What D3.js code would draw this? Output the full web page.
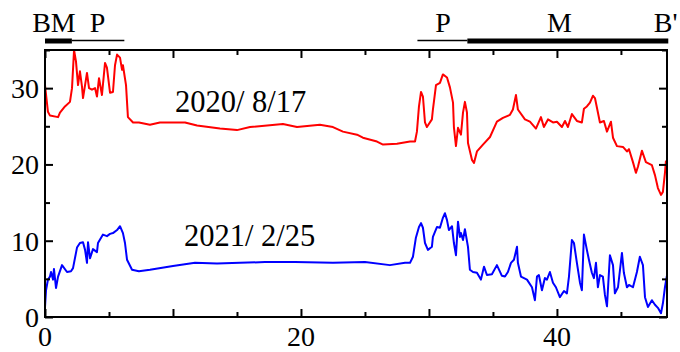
<!DOCTYPE html>
<html><head><meta charset="utf-8">
<script src="https://cdn.jsdelivr.net/npm/d3@7"></script>
<style>body{margin:0;background:#fff}svg{display:block}</style>
</head><body><svg id="c" width="680" height="352"></svg>
<script>
// ---- data ----
const xTicks = [0, 20, 40];
const yTicks = [0, 10, 20, 30];
const redX = [0,0.23,0.39,1.02,1.17,1.56,1.95,2.11,2.27,2.42,2.58,2.73,2.89,2.97,3.28,3.44,3.67,3.91,4.06,4.22,4.45,4.69,4.84,5.08,5.31,5.47,5.63,5.86,6.02,6.09,6.33,6.48,6.88,7.34,8.20,8.98,10.94,11.88,13.67,15.0,16.02,18.59,19.69,21.48,22.5,23.28,24.38,24.84,25.94,26.41,27.5,28.52,28.91,29.06,29.22,29.38,29.53,29.69,29.84,30.23,30.31,30.55,30.86,31.09,31.41,31.64,31.88,31.95,32.11,32.27,32.5,32.66,32.81,32.97,33.05,33.36,33.52,33.75,34.22,34.77,35.31,35.78,36.33,36.56,36.8,36.95,37.5,37.89,38.36,38.75,38.98,39.3,39.69,40.0,40.39,40.63,40.86,41.17,41.56,41.95,42.11,42.34,42.58,42.81,42.97,43.13,43.36,43.67,43.91,44.22,44.38,44.69,45.16,45.47,45.63,45.94,46.17,46.33,46.64,46.95,47.42,47.66,47.89,48.13,48.28,48.44,48.52];
const redY = [30.4,26.9,26.4,26.2,26.8,27.6,28.2,30.0,35.0,33.5,30.4,32.2,30.2,28.7,32.0,30.0,29.8,30.0,28.9,31.3,29.1,33.3,32.7,29.4,29.5,33.0,34.4,34.0,32.4,33.0,30.4,26.2,25.5,25.5,25.2,25.5,25.5,25.1,24.7,24.5,24.9,25.3,24.9,25.2,24.9,24.3,23.9,23.5,23.0,22.6,22.7,23.0,23.0,24.3,27.6,29.5,28.9,25.5,24.9,25.9,27.2,30.4,30.7,31.8,31.4,30.1,28.1,24.9,22.4,24.8,23.9,26.8,28.2,26.8,22.8,20.6,20.2,21.7,22.6,23.6,25.6,26.1,26.5,27.2,29.1,27.2,25.9,25.6,24.7,26.2,24.9,25.9,25.5,25.6,24.9,25.7,24.9,26.6,25.7,25.5,27.3,27.6,28.1,29.0,28.7,27.4,25.5,25.7,24.3,25.6,23.5,22.4,22.3,21.7,22.0,20.3,18.9,19.7,21.8,20.3,19.9,18.6,16.9,16.0,16.4,18.9,20.5];
const blueX = [0,0.08,0.23,0.39,0.47,0.63,0.70,0.86,1.02,1.33,1.72,2.03,2.19,2.50,2.73,2.97,3.13,3.28,3.36,3.52,3.75,4.06,4.14,4.53,4.84,5.08,5.31,5.63,5.86,6.09,6.25,6.41,6.80,7.34,8.20,10.0,11.72,13.44,15.23,17.19,19.53,22.5,25.0,26.95,28.13,28.52,28.75,28.98,29.22,29.38,29.53,29.69,29.92,30.23,30.31,30.63,30.86,31.09,31.25,31.41,31.56,31.80,31.95,32.11,32.27,32.42,32.50,32.66,32.81,33.05,33.20,33.44,33.75,34.06,34.30,34.53,34.92,35.31,35.70,35.94,36.17,36.41,36.64,36.88,36.95,37.19,37.66,38.05,38.28,38.44,38.59,38.83,39.06,39.22,39.45,39.69,39.92,40.23,40.55,40.78,40.94,41.17,41.33,41.56,41.80,41.95,42.11,42.34,42.50,42.73,42.89,43.05,43.20,43.36,43.59,43.75,43.91,44.14,44.38,44.53,44.77,45.08,45.23,45.47,45.63,45.94,46.25,46.48,46.72,46.88,47.11,47.42,47.66,47.89,48.13,48.28,48.44,48.59];
const blueY = [1.3,3.5,4.9,5.3,5.9,4.9,6.3,3.8,5.3,6.8,5.9,6.0,6.4,9.1,9.7,9.8,8.8,7.1,9.8,7.7,8.9,8.5,9.7,10.8,10.6,10.9,11.0,11.4,11.9,11.0,9.7,7.5,6.2,6.0,6.2,6.7,7.1,7.0,7.1,7.2,7.2,7.1,7.2,6.8,7.1,7.1,7.9,10.4,11.8,12.3,11.7,9.7,8.8,9.2,10.5,11.8,11.7,13.0,13.6,12.7,11.4,11.9,9.7,8.1,12.5,10.5,11.0,10.1,11.5,9.2,6.2,5.9,5.8,4.9,6.6,5.5,5.6,6.8,5.4,5.3,5.9,7.1,7.5,9.2,7.1,5.3,4.9,3.9,2.2,5.3,5.5,3.5,5.1,4.9,5.9,4.5,3.9,2.6,3.4,3.1,5.3,10.1,9.7,7.1,4.5,3.5,10.8,8.8,7.5,5.8,5.1,7.1,3.9,5.5,5.3,2.9,1.4,8.1,6.8,3.1,3.9,8.4,5.8,3.9,4.2,3.9,5.9,7.9,6.8,2.6,1.3,2.2,1.6,1.2,0.5,1.8,3.9,5.4];
const seriesLabels = ["2020/ 8/17", "2021/ 2/25"];
// phase bars: [start, end, kind]
const barStarts = [0, 2.1, 29.1, 33.0];
const barEnds = [2.1, 6.2, 33.0, 48.7];
const barKinds = ["thick", "thin", "thin", "thick"];
const phaseNames = ["BM", "P", "P", "M", "B'"];
const phaseAt = [0.7, 4.1, 31.1, 40.2, 48.5];

// ---- chart ----
const L = 45, R = 667, T = 50, B = 317;
const svg = d3.select("#c");
const x = d3.scaleLinear().domain([0, 48.6]).range([L, R]);
const y = d3.scaleLinear().domain([0, 35]).range([B, T]);
const font = "'Liberation Serif','Times New Roman',serif";

svg.append("clipPath").attr("id","clip").append("rect")
  .attr("x", L).attr("y", T).attr("width", R-L).attr("height", B-T);

const line = d3.line().x(d => x(d[0])).y(d => y(d[1]));
const red = redX.map((v,i) => [v, redY[i]]);
const blue = blueX.map((v,i) => [v, blueY[i]]);
const g = svg.append("g").attr("clip-path","url(#clip)");
g.append("path").datum(red).attr("d", line).attr("fill","none").attr("stroke","#ff0000").attr("stroke-width",2).attr("stroke-linejoin","round");
g.append("path").datum(blue).attr("d", line).attr("fill","none").attr("stroke","#0000ff").attr("stroke-width",2).attr("stroke-linejoin","round");

// axes with inward ticks
const xMinor = d3.range(0, 49, 5);
const yMinor = d3.range(0, 36, 5);
function tickLen(v){ return v % 10 === 0 ? 8 : 5; }
const axB = svg.append("g").attr("transform",`translate(0,${B})`)
  .call(d3.axisBottom(x).tickValues(xMinor).tickSize(0).tickFormat(""));
const axT = svg.append("g").attr("transform",`translate(0,${T})`)
  .call(d3.axisTop(x).tickValues(xMinor).tickSize(0).tickFormat(""));
const axL = svg.append("g").attr("transform",`translate(${L},0)`)
  .call(d3.axisLeft(y).tickValues(yMinor).tickSize(0).tickFormat(""));
const axR = svg.append("g").attr("transform",`translate(${R},0)`)
  .call(d3.axisRight(y).tickValues(yMinor).tickSize(0).tickFormat(""));
[axB, axT, axL, axR].forEach(a => a.select(".domain").remove());
axB.selectAll(".tick line").attr("y2", d => -tickLen(d)).attr("stroke","#000").attr("stroke-width",2);
axT.selectAll(".tick line").attr("y2", d => tickLen(d)).attr("stroke","#000").attr("stroke-width",2);
axL.selectAll(".tick line").attr("x2", d => tickLen(d)).attr("stroke","#000").attr("stroke-width",2);
axR.selectAll(".tick line").attr("x2", d => -tickLen(d)).attr("stroke","#000").attr("stroke-width",2);
svg.append("rect").attr("x",L).attr("y",T).attr("width",R-L).attr("height",B-T)
  .attr("fill","none").attr("stroke","#000").attr("stroke-width",2);

// tick labels
svg.selectAll(".xl").data(xTicks).enter().append("text")
  .attr("x", d => x(d)).attr("y", B + 29).attr("text-anchor","middle")
  .attr("font-family", font).attr("font-size", 28).attr("fill","#000").text(d => d);
svg.selectAll(".yl").data(yTicks).enter().append("text")
  .attr("x", L - 6).attr("y", d => y(d) + 10).attr("text-anchor","end")
  .attr("font-family", font).attr("font-size", 28).attr("fill","#000").text(d => d);

// series labels
svg.append("text").attr("x",175).attr("y",112).attr("font-family",font).attr("font-size",30.5).attr("fill","#000").text(seriesLabels[0]);
svg.append("text").attr("x",184).attr("y",246).attr("font-family",font).attr("font-size",30.5).attr("fill","#000").text(seriesLabels[1]);

// phase bars
barStarts.forEach((s,i) => {
  const thick = barKinds[i] === "thick";
  svg.append("line").attr("x1", x(s)).attr("x2", x(barEnds[i]))
    .attr("y1", thick ? 41 : 40.5).attr("y2", thick ? 41 : 40.5)
    .attr("stroke","#000").attr("stroke-width", thick ? 5 : 1.5);
});
phaseNames.forEach((n,i) => {
  svg.append("text").attr("x", x(phaseAt[i])).attr("y", 32).attr("text-anchor","middle")
    .attr("font-family",font).attr("font-size",28).attr("fill","#000").text(n);
});
</script></body></html>
